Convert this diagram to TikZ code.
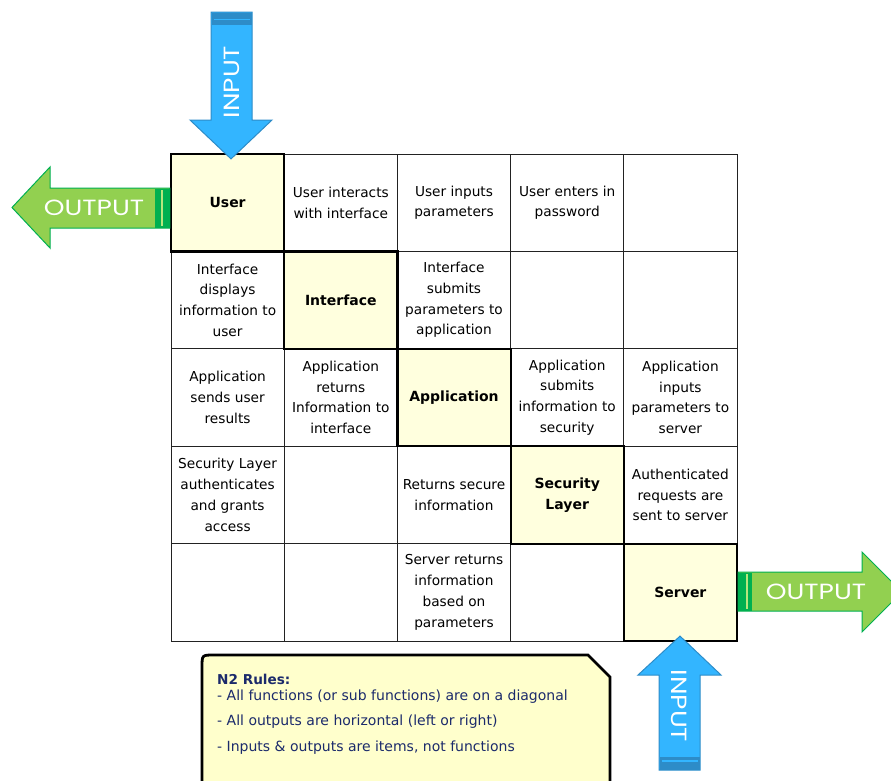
\documentclass[tikz,border=0pt]{standalone}
\usepackage{fontspec}
\setmainfont{DejaVu Sans}
\newfontfamily\arrowfont{Poppins}
\usetikzlibrary{calc}

\definecolor{diagfill}{HTML}{FFFFDE}
\definecolor{notefill}{HTML}{FFFFCC}
\definecolor{notetext}{HTML}{1B2A6B}
\definecolor{inblue}{HTML}{33B5FF}
\definecolor{inblueedge}{HTML}{2D8CC8}
\definecolor{outgreen}{HTML}{92D050}
\definecolor{outgreenedge}{HTML}{00B050}
\definecolor{outgreenline}{HTML}{B8E67E}
\definecolor{gridline}{HTML}{222222}

\newcommand{\widetext}[1]{\scalebox{1.2}[1]{#1}}

\begin{document}
\begin{tikzpicture}[x=1pt,y=-1pt,
  cell/.style={draw=gridline,line width=0.9pt,minimum width=113.2pt,
    minimum height=97.4pt,inner sep=0pt,align=center,
    font=\fontsize{13.7}{20.7}\selectfont},
  func/.style={cell,fill=diagfill,draw=black,line width=2.2pt,
    font=\fontsize{14}{20.7}\selectfont\bfseries},
  inarrow/.style={fill=inblue,draw=inblueedge,line width=1pt,line join=miter},
  outarrow/.style={fill=outgreen,draw=outgreenedge,line width=1pt,line join=miter},
  arrowtext/.style={text=white,font=\fontsize{22}{22}\arrowfont,inner sep=0pt},
  ruletext/.style={anchor=west,text=notetext,inner sep=0pt,
    font=\fontsize{14}{16}\selectfont}]

\useasboundingbox (0,0) rectangle (891,780);
\clip (0,0) rectangle (891,780);

% ---- off-diagonal cells of the N2 matrix ----
\node[cell] (c12) at (340.8,202.7) {User interacts\\with interface};
\node[cell] (c13) at (454.0,202.7) {User inputs\\parameters};
\node[cell] (c14) at (567.2,202.7) {User enters in\\password};
\node[cell] (c15) at (680.4,202.7) {};

\node[cell] (c21) at (227.6,300.1) {Interface\\displays\\information to\\user};
\node[cell] (c23) at (454.0,300.1) {Interface\\submits\\parameters to\\application};
\node[cell] (c24) at (567.2,300.1) {};
\node[cell] (c25) at (680.4,300.1) {};

\node[cell] (c31) at (227.6,397.5) {Application\\sends user\\results};
\node[cell] (c32) at (340.8,397.5) {Application\\returns\\Information to\\interface};
\node[cell] (c34) at (567.2,397.5) {Application\\submits\\information to\\security};
\node[cell] (c35) at (680.4,397.5) {Application\\inputs\\parameters to\\server};

\node[cell] (c41) at (227.6,494.9) {Security Layer\\authenticates\\and grants\\access};
\node[cell] (c42) at (340.8,494.9) {};
\node[cell] (c43) at (454.0,494.9) {Returns secure\\information};
\node[cell] (c45) at (680.4,494.9) {Authenticated\\requests are\\sent to server};

\node[cell] (c51) at (227.6,592.3) {};
\node[cell] (c52) at (340.8,592.3) {};
\node[cell] (c53) at (454.0,592.3) {Server returns\\information\\based on\\parameters};
\node[cell] (c54) at (567.2,592.3) {};

% ---- functions on the diagonal ----
\node[func] (c11) at (227.6,202.7) {User};
\node[func] (c22) at (340.8,300.1) {Interface};
\node[func] (c33) at (454.0,397.5) {Application};
\node[func] (c44) at (567.2,494.9) {Security\\Layer};
\node[func] (c55) at (680.4,592.3) {Server};

% ---- input arrow into User ----
\draw[inarrow] (211,12) -- (252,12) -- (252,120) -- (272,120)
  -- ($(c11.north)+(3.4,6)$) -- (190,120) -- (211,120) -- cycle;
\fill[inblueedge] (211.5,12.5) rectangle (251.5,25);
\draw[inblue,line width=1.6pt] (213.5,19.5) -- (249.5,19.5);
\node[arrowtext,rotate=90] (inuser) at (232,82) {\widetext{INPUT}};

% ---- output arrow from User ----
\draw[outarrow] (c11.west |- 0,188) -- (50,188) -- (50,167) -- (12,207.5)
  -- (50,248) -- (50,228) -- (c11.west |- 0,228) -- cycle;
\fill[outgreenedge] (155,188.5) rectangle (170,227.5);
\draw[outgreenline,line width=1.6pt] (161.7,190) -- (161.7,226);
\node[arrowtext] (outuser) at (94,208) {\widetext{OUTPUT}};

% ---- output arrow from Server ----
\draw[outarrow] (c55.east |- 0,572) -- (862,572) -- (862,552) -- (902,592)
  -- (862,632) -- (862,611) -- (c55.east |- 0,611) -- cycle;
\fill[outgreenedge] (738,572.5) rectangle (752,610.5);
\draw[outgreenline,line width=1.6pt] (746.8,574) -- (746.8,609);
\node[arrowtext] (outserver) at (816,592) {\widetext{OUTPUT}};

% ---- input arrow into Server ----
\draw[inarrow] ($(c55.south)+(-0.4,-6)$) -- (721,675) -- (700,675) -- (700,770)
  -- (659,770) -- (659,675) -- (638,675) -- cycle;
\fill[inblueedge] (659.5,757) rectangle (699.5,769.5);
\draw[inblue,line width=1.6pt] (661.5,761) -- (697.5,761);
\node[arrowtext,rotate=-90] (inserver) at (679,706) {\widetext{INPUT}};

% ---- rules note ----
\draw[fill=notefill,line width=2.8pt,line join=miter]
  (202,800) -- (202,667) .. controls (202,655) .. (214,655) -- (588,655)
  -- (610,677) -- (610,800);
\node[ruletext,font=\fontsize{13.6}{16}\selectfont\bfseries] (rule0) at (217,679) {N2 Rules:};
\node[ruletext] (rule1) at (217,697) {- All functions (or sub functions) are on a diagonal};
\node[ruletext] (rule2) at (217,722) {- All outputs are horizontal (left or right)};
\node[ruletext] (rule3) at (217,748) {- Inputs \& outputs are items, not functions};

\end{tikzpicture}
\end{document}
